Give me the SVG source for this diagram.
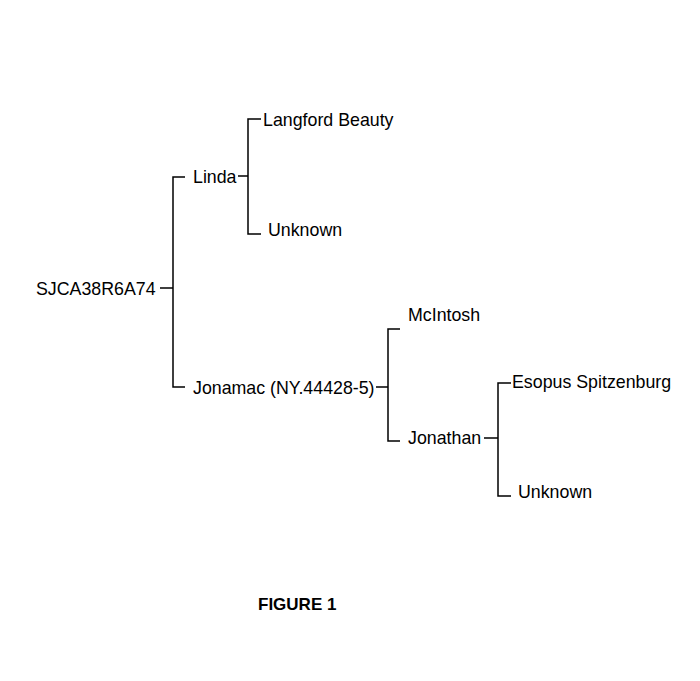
<svg xmlns="http://www.w3.org/2000/svg" width="700" height="681" viewBox="0 0 700 681">
<style>
text{font-family:"Liberation Sans",Arial,sans-serif;font-size:17.8px;fill:#000}
.c{stroke:#000;stroke-width:1.5;fill:none}
</style>
<rect width="700" height="681" fill="#fff"/>
<g id="connectors">
<path class="c" d="M160 288H173M185 177H173V387H185"/>
<path class="c" d="M238 176H248M261 119H248V234H261"/>
<path class="c" d="M376 387H388M400 329H388V441H400"/>
<path class="c" d="M484 438H498M511 383H498V496H511"/>
</g>
<g id="root"><text x="36" y="295">SJCA38R6A74</text></g>
<g id="linda"><text x="193" y="183">Linda</text></g>
<g id="langford"><text x="263" y="126">Langford Beauty</text></g>
<g id="unknown1"><text x="268" y="236">Unknown</text></g>
<g id="jonamac"><text x="193" y="394">Jonamac (NY.44428-5)</text></g>
<g id="mcintosh"><text x="408" y="321">McIntosh</text></g>
<g id="jonathan"><text x="408" y="444">Jonathan</text></g>
<g id="esopus"><text x="512" y="388">Esopus Spitzenburg</text></g>
<g id="unknown2"><text x="518" y="498">Unknown</text></g>
<text x="258" y="610" style="font-weight:bold;font-size:17px">FIGURE 1</text>
</svg>
